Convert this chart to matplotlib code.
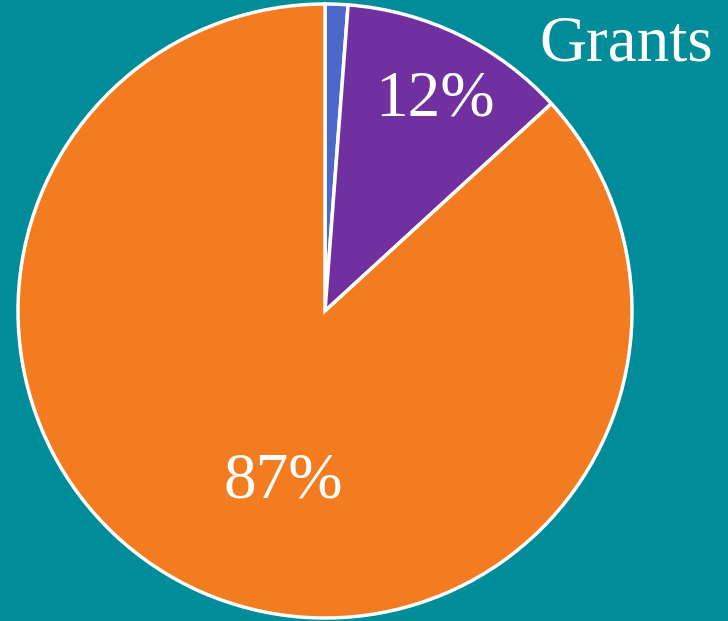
import matplotlib.pyplot as plt

# data
labels = ['Other', 'Grants', 'Rest']
shares = [1.2, 12, 86.8]
colors = ['#4C68C9', '#7030A0', '#F47C20']
pct_text = ['', '12%', '87%']

bg = '#008C98'
W, H = 728, 621
cx, cy, r = 325, 311, 307   # pie centre / radius in pixels

fig = plt.figure(figsize=(W / 100., H / 100.), dpi=100)
fig.patch.set_facecolor(bg)
ax = fig.add_axes([0, 0, 1, 1])
ax.set_facecolor(bg)

wedges, _ = ax.pie(shares, colors=colors, startangle=90, counterclock=False,
                   radius=1.0,
                   wedgeprops=dict(edgecolor='white', linewidth=2.5))

ax.set_xlim(-cx / float(r), (W - cx) / float(r))
ax.set_ylim(-(H - cy) / float(r), cy / float(r))
ax.set_aspect('equal')
ax.axis('off')

font = dict(family='Liberation Serif', color='white', fontsize=47,
            ha='center', va='center')
ax.text(0.358, 0.687, pct_text[1], **font)
ax.text(-0.137, -0.557, pct_text[2], **font)
ax.text(0.98, 0.866, labels[1], **font)

fig.savefig('out.png', dpi=100, facecolor=bg)
